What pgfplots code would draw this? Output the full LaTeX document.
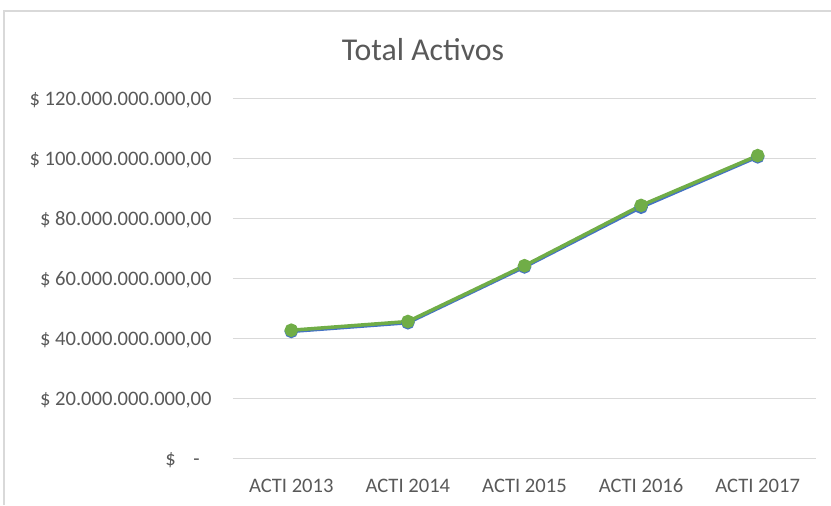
\documentclass[border=0pt]{standalone}
\usepackage{pgfplots}
\pgfplotsset{compat=1.18}
\usepackage{fontspec}
\setmainfont{Carlito}
\definecolor{txt}{HTML}{595959}
\definecolor{gridc}{HTML}{D9D9D9}
\definecolor{blu}{HTML}{4472C4}
\definecolor{grn}{HTML}{70AD47}
\begin{document}
\begin{tikzpicture}
\path[use as bounding box] (0pt,0pt) rectangle (415.5pt,-252.5pt);
\draw[gridc, line width=0.6pt] (2pt,-252.5pt) -- (2pt,-5.5pt) -- (415.5pt,-5.5pt);
\node[text=txt, font=\fontsize{15.9pt}{18pt}\selectfont, anchor=base, inner sep=0pt] at (211.5pt,-30.35pt) {Total Activos};
\begin{axis}[
  at={(116.5pt,-229pt)}, anchor=south west,
  scale only axis, width=291.5pt, height=180pt,
  xmin=-0.5, xmax=4.5, ymin=0, ymax=120e9,
  scaled y ticks=false,
  axis line style={draw=none},
  major tick length=0pt,
  ymajorgrids, grid style={gridc, line width=0.5pt},
  xtick={0,1,2,3,4},
  xticklabels={ACTI 2013,ACTI 2014,ACTI 2015,ACTI 2016,ACTI 2017},
  ytick={0,20e9,40e9,60e9,80e9,100e9,120e9},
  yticklabels={{\$\hspace*{8.7pt}-\hspace*{6pt}},{\$ 20.000.000.000,00},{\$ 40.000.000.000,00},{\$ 60.000.000.000,00},{\$ 80.000.000.000,00},{\$ 100.000.000.000,00},{\$ 120.000.000.000,00}},
  tick label style={text=txt, font=\fontsize{10.3pt}{12pt}\selectfont},
  yticklabel style={anchor=base east, inner sep=0pt, xshift=-10.5pt, yshift=-3.5pt},
  xticklabel style={anchor=base, inner sep=0pt, yshift=-17.35pt},
  clip=false,
]
\addplot[blu, line width=1.75pt, mark=*, mark size=2.5pt, mark options={fill=blu, draw=blu}] coordinates {
 (0,42.2e9) (1,45.1e9) (2,63.7e9) (3,83.6e9) (4,100.4e9)};
\addplot[grn, line width=1.75pt, mark=*, mark size=2.5pt, mark options={fill=grn, draw=grn}] coordinates {
 (0,42.6e9) (1,45.5e9) (2,64.1e9) (3,84.2e9) (4,100.8e9)};
\end{axis}
\end{tikzpicture}
\end{document}
